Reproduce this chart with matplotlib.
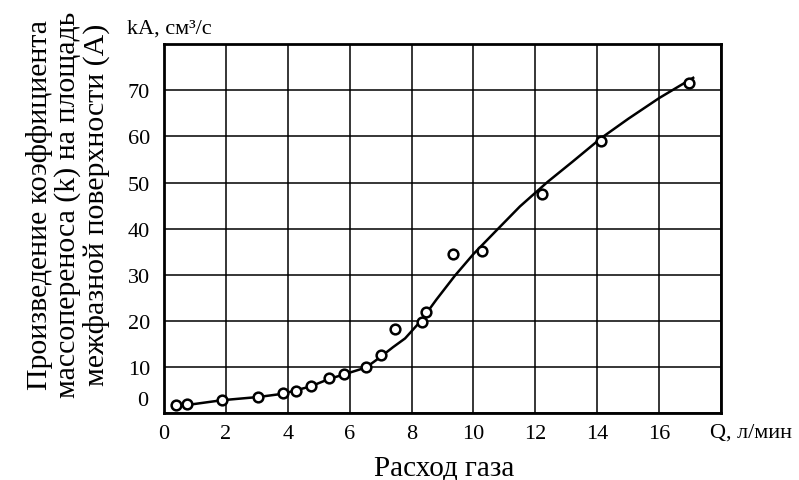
import matplotlib
matplotlib.use("Agg")
import matplotlib.pyplot as plt

plt.rcParams["font.family"] = ["Liberation Serif", "DejaVu Serif"]

# measured points: gas flow Q (l/min) vs kA (cm3/s)
q_pts = [0.38, 0.74, 1.87, 3.05, 3.84, 4.25, 4.74, 5.33, 5.82, 6.53, 7.0,
         7.47, 8.33, 8.47, 9.34, 10.28, 12.2, 14.12, 16.95]
ka_pts = [1.7, 1.9, 2.9, 3.6, 4.4, 4.9, 5.8, 7.6, 8.4, 10.1, 12.6,
          18.2, 19.7, 22.0, 34.5, 35.1, 47.4, 59.0, 71.5]

# fitted curve
q_fit = [0.38, 1.0, 1.87, 3.05, 3.84, 4.74, 5.33, 5.82, 6.53, 7.0, 7.4, 7.79,
         8.3, 8.8, 9.4, 10.0, 10.77, 11.5, 12.39, 13.2, 14.12, 15.0, 16.0, 17.1]
ka_fit = [1.5, 2.0, 2.8, 3.5, 4.2, 5.8, 7.4, 8.4, 9.9, 12.2, 14.3, 16.2,
          20.0, 24.6, 29.8, 34.5, 39.8, 44.8, 50.1, 54.5, 59.6, 63.8, 68.3, 72.7]

x_ticks = [0, 2, 4, 6, 8, 10, 12, 14, 16]
y_ticks = [10, 20, 30, 40, 50, 60, 70]

fig = plt.figure(figsize=(7.99, 4.81), dpi=100)
ax = fig.add_axes([0.2053, 0.139, 0.6971, 0.7672])

ax.plot(q_fit, ka_fit, color="black", lw=1.8)
ax.plot(q_pts, ka_pts, "o", ms=7, mfc="white", mec="black", mew=1.8)

ax.set_xlim(0, 18)
ax.set_ylim(0, 80)
ax.set_xticks(range(0, 19, 2))
ax.set_yticks(range(0, 81, 10))
ax.set_xticklabels([str(t) for t in x_ticks] + [""], fontsize=16)
ax.set_yticklabels([""] + [str(t) for t in y_ticks] + [""], fontsize=16)
ax.tick_params(axis="x", length=0, pad=8)
ax.tick_params(axis="y", length=0, pad=10)
ax.grid(True, color="black", lw=1.1)
for s in ax.spines.values():
    s.set_linewidth(2)

# zero label sits a little above the axis in the original
ax.text(-0.5, 2.8, "0", ha="right", va="center", fontsize=16)
ax.text(-1.2, 83.5, "kA, см³/с", ha="left", va="center", fontsize=16, clip_on=False)
ax.text(17.65, -4.0, "Q, л/мин", ha="left", va="center", fontsize=16, clip_on=False)

fig.text(0.556, 0.027, "Расход газа", ha="center", va="center", fontsize=21)
fig.text(0.085, 0.574,
         "Произведение коэффициента\nмассопереноса (k) на площадь\nмежфазной поверхности (A)",
         rotation=90, ha="center", va="center", fontsize=21.5, linespacing=1.05,
         multialignment="center")

fig.savefig("out.png", dpi=100)
